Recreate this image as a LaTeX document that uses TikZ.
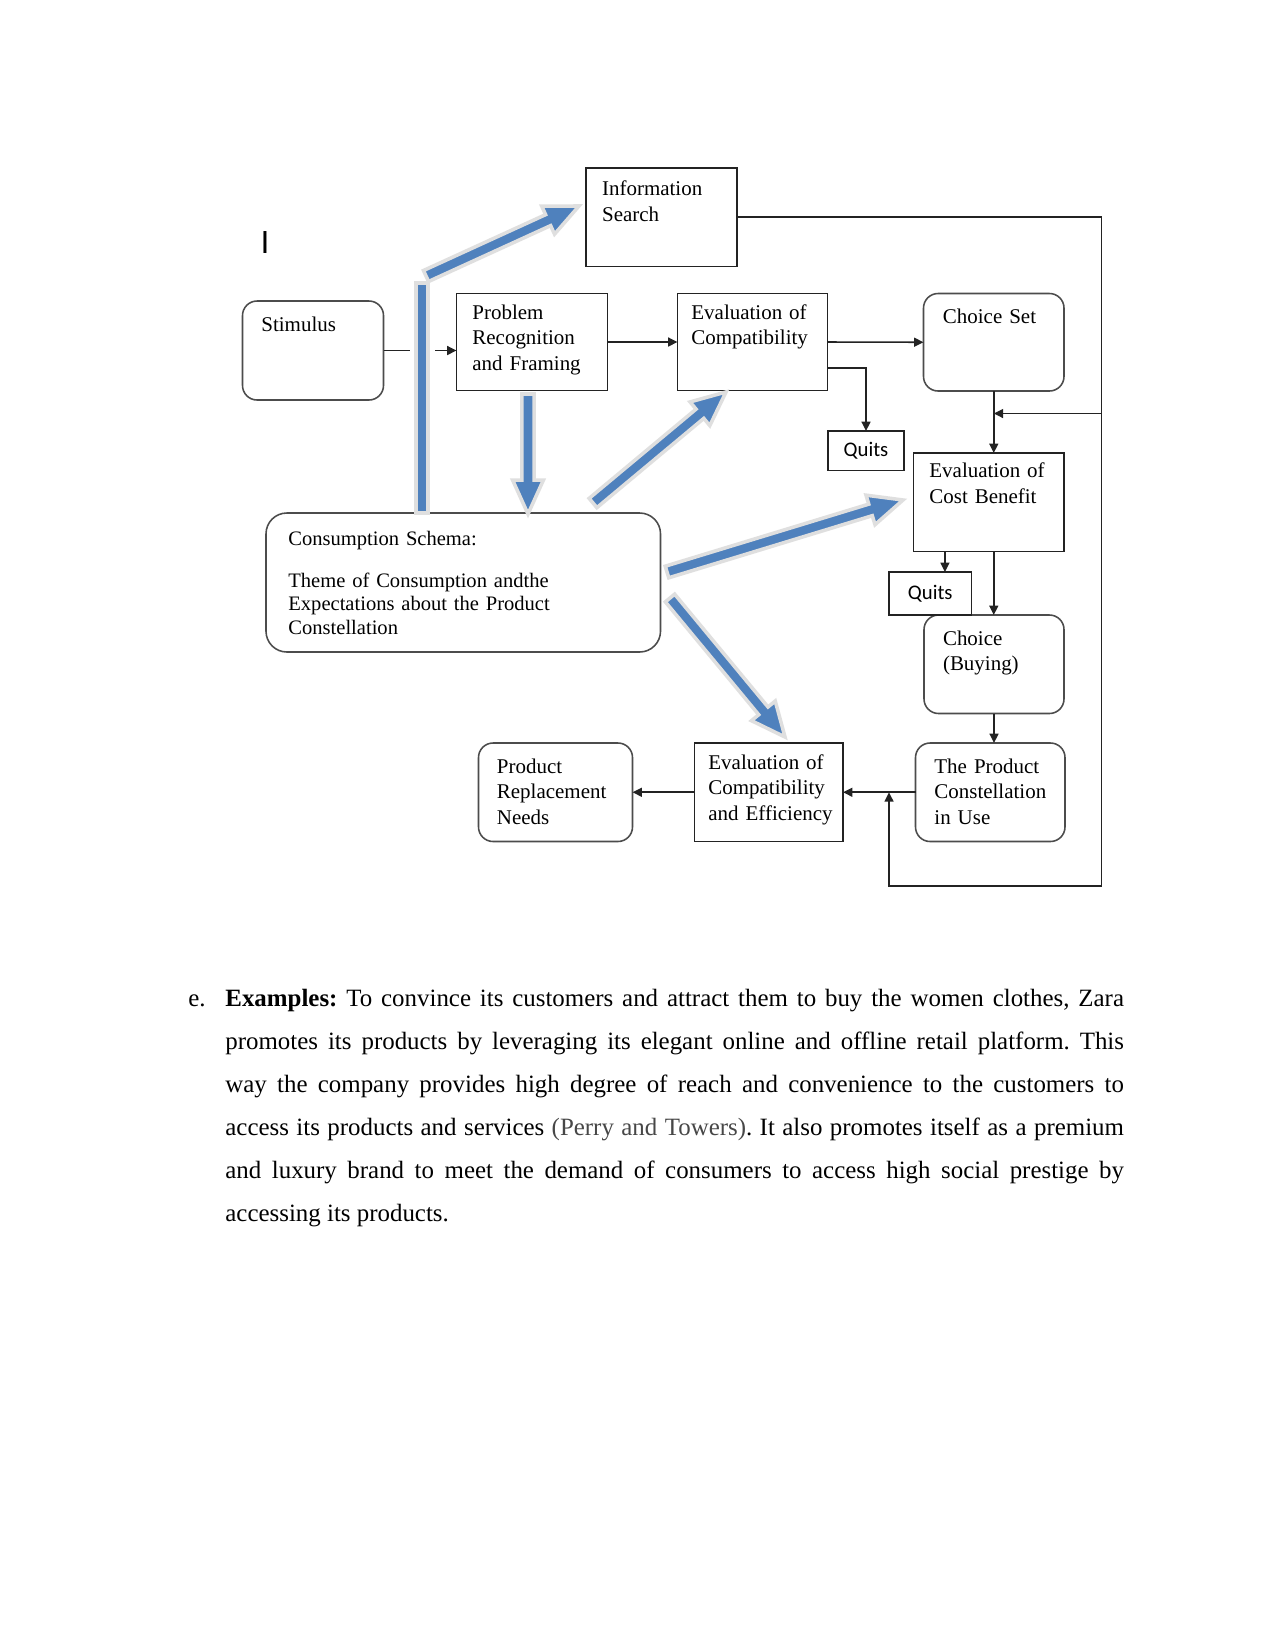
\documentclass[tikz,border=0pt]{standalone}
\usepackage{fontspec}
\setmainfont{Liberation Serif}
\newfontfamily\calfont{Carlito}
\newfontfamily\arialfont{Liberation Sans}
\usetikzlibrary{arrows.meta,calc}
\definecolor{arrblue}{RGB}{79,129,189}
\definecolor{linegray}{RGB}{35,35,35}
\tikzset{
 box/.style={draw=linegray, line width=0.75bp, inner sep=0, outer sep=0, anchor=north west},
 rbox/.style={box, rounded corners=7bp, draw=black!70},
 txt/.style={anchor=base west, align=left, inner sep=0, text width=75bp, font=\fontsize{10.1}{12.5}\selectfont},
 conn/.style={draw=linegray, line width=0.75bp, -{Triangle[length=4.5bp,width=4.3bp]}},
 blockstyle/.style={fill=arrblue, draw=gray!25, line width=1.7bp, line join=miter},
}
\newcommand\blockarrow[2]{%
 \path ($(#2)!16.3bp!(#1)$) coordinate (bah);
 \filldraw[blockstyle] ($(#1)!2.9bp!90:(#2)$) -- ($(bah)!2.9bp!90:(#2)$) -- ($(bah)!7.4bp!90:(#2)$) -- (#2) -- ($(bah)!7.4bp!-90:(#2)$) -- ($(bah)!2.9bp!-90:(#2)$) -- ($(#1)!2.9bp!-90:(#2)$) -- cycle;}
\begin{document}
\frenchspacing
\begin{tikzpicture}[x=0.48bp, y=-0.48bp]
\useasboundingbox (0,0) rectangle (1275,1650);
\fill[white] (0,0) rectangle (1275,1650);

% boxes
\node[box, minimum width=72.48bp, minimum height=47.28bp] (info) at (586,168) {};
\node[rbox, minimum width=67.68bp, minimum height=47.52bp] (stim) at (242.5,301) {};
\node[box, minimum width=72.48bp, minimum height=46.56bp] (prob) at (456.5,293.5) {};
\node[box, minimum width=72bp, minimum height=46.56bp] (evc) at (677.5,293.5) {};
\node[rbox, minimum width=67.44bp, minimum height=46.8bp] (cset) at (923.5,293.5) {};
\node[box, minimum width=36.48bp, minimum height=18.96bp, font=\calfont\fontsize{10}{12}\selectfont] (quits1) at (828,431) {Quits};
\node[box, minimum width=72.24bp, minimum height=47.28bp] (ecb) at (913.5,453) {};
\node[rbox, minimum width=67.2bp, minimum height=47.28bp] (choice) at (924,615) {};
\node[box, minimum width=39.6bp, minimum height=20.64bp, font=\calfont\fontsize{10}{12}\selectfont] (quits2) at (889,572) {Quits};
\node[rbox, minimum width=71.76bp, minimum height=47.28bp] (tpc) at (915.5,743) {};
\node[box, minimum width=71.28bp, minimum height=47.28bp] (ece) at (694.5,743) {};
\node[rbox, minimum width=73.92bp, minimum height=47.28bp] (prn) at (478.5,743) {};
\node[box, rounded corners=10bp, draw=black!70, minimum width=189.36bp, minimum height=66.72bp] (cs) at (266,513) {};

% texts
\node[txt] (tinfo) at ($(info.north west)+(15.7,27.7)$) {Information\\Search};
\node[txt] (tstim) at ($(stim.north west)+(18.5,30)$) {Stimulus};
\node[txt] (tprob) at ($(prob.north west)+(15.5,25.5)$) {Problem\\Recognition\\and Framing};
\node[txt] (tevc) at ($(evc.north west)+(13.5,25.5)$) {Evaluation of\\Compatibility};
\node[txt] (tcset) at ($(cset.north west)+(19,29.5)$) {Choice Set};
\node[txt] (tecb) at ($(ecb.north west)+(15.5,24.6)$) {Evaluation of\\Cost Benefit};
\node[txt] (tchoice) at ($(choice.north west)+(18.6,30)$) {Choice\\(Buying)};
\node[txt] (ttpc) at ($(tpc.north west)+(18.5,30)$) {The Product\\Constellation\\in Use};
\node[txt] (tece) at ($(ece.north west)+(13.5,26)$) {Evaluation of\\Compatibility\\and Efficiency};
\node[txt] (tprn) at ($(prn.north west)+(18,30)$) {Product\\Replacement\\Needs};
\node[txt, text width=170bp, font=\fontsize{9.9}{11.5}\selectfont] (tcs) at ($(cs.north west)+(22,32)$) {Consumption Schema:\\[8.7bp]Theme of Consumption andthe\\Expectations about the Product\\Constellation};

\node[font=\arialfont\fontsize{15.4}{16}\selectfont, anchor=base, inner sep=0] (cursor) at (265,253) {I};

% connectors
\draw[conn] (stim.east) -- (stim.east -| prob.west);
\draw[conn] (prob.east) -- (evc.west);
\draw[conn] (evc.east) -- (cset.west);
\draw[conn] ([yshift=-12.5bp]evc.east) -| (quits1.north);
\draw[conn] (cset.south) -- (cset.south |- ecb.north);
\draw[conn] (cset.south |- ecb.south) -- (cset.south |- choice.north);
\draw[conn] ([xshift=15.1bp]ecb.south west) -- ([xshift=15.1bp]ecb.south west |- quits2.north);
\draw[conn] (choice.south) -- (choice.south |- tpc.north);
\draw[conn] (tpc.west) -- (ece.east);
\draw[conn] (ece.west) -- (prn.east);
\coordinate (frtop) at (1101.5,217.5);
\coordinate (frbot) at (1101.5,886);
\coordinate (loopl) at (889,886);
\coordinate (fbk) at (1101.5,413.5);
\draw[conn] (info.east) -- (info.east -| frtop) -- (frbot) -- (loopl) -- (loopl |- tpc.west);
\draw[conn] (fbk) -- (fbk -| cset.south);

% blue block arrows
\coordinate (b1s) at (422,513);
\coordinate (b1e) at (422,283);
\fill[white] (410,338) rectangle (435,360);
\filldraw[blockstyle] ($(b1s)+(-6,0)$) rectangle ($(b1e)+(6,0)$);
\coordinate (b2s) at (426,276);  \coordinate (b2e) at (579,206);
\coordinate (b3s) at (528,394);  \coordinate (b3e) at (528,514);
\coordinate (b4s) at (593,503);  \coordinate (b4e) at (726,392);
\coordinate (b5s) at (667,572);  \coordinate (b5e) at (903,500);
\coordinate (b6s) at (670,598);  \coordinate (b6e) at (785,737);
\blockarrow{b2s}{b2e}
\blockarrow{b3s}{b3e}
\blockarrow{b4s}{b4e}
\blockarrow{b5s}{b5e}
\blockarrow{b6s}{b6e}

% body text
\node[anchor=base west, inner sep=0, font=\fontsize{12}{20.7}\selectfont] (elabel) at (188,1006.7) {e.};
\node[anchor=base west, inner sep=0, text width=431.3bp, align=justify, font=\fontsize{12}{20.7}\selectfont] (body) at (225,1006.7) {\textbf{Examples:} To convince its customers and attract them to buy the women clothes, Zara\linebreak promotes its products by leveraging its elegant online and offline retail platform. This\linebreak way the company provides high degree of reach and convenience to the customers to\linebreak access its products and services {\color{black!72}(Perry and Towers)}. It also promotes itself as a premium\linebreak and luxury brand to meet the demand of consumers to access high social prestige by\linebreak accessing its products.};
\end{tikzpicture}
\end{document}
